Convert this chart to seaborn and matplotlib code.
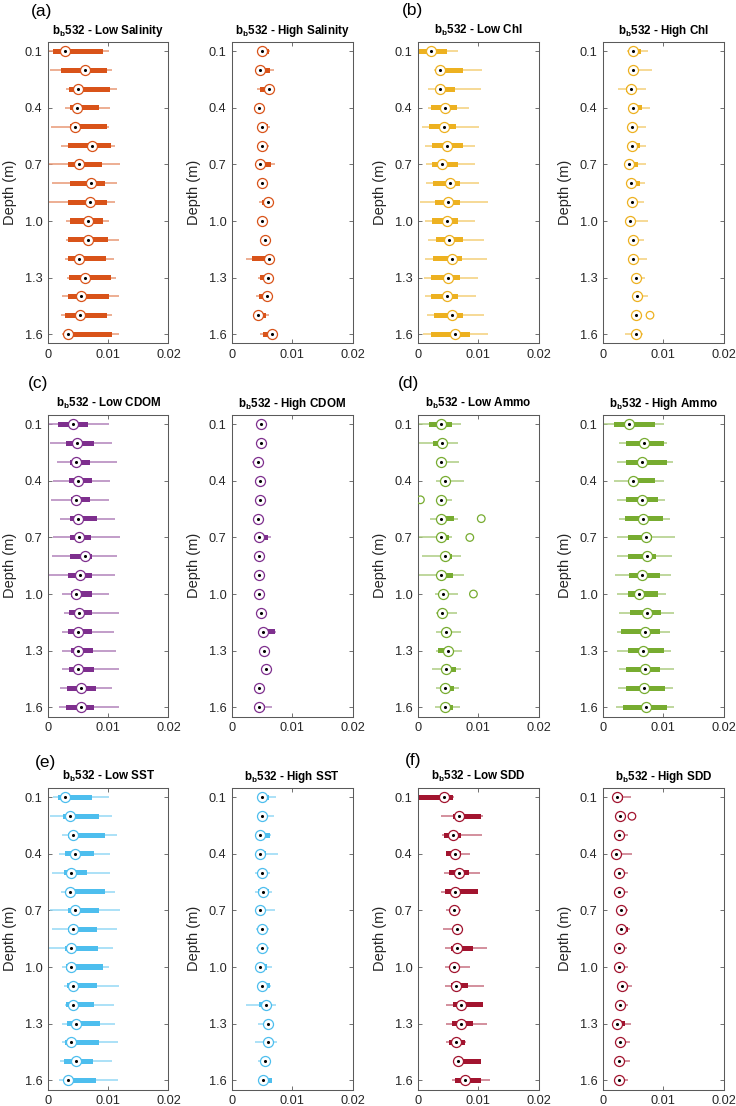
import numpy as np
import pandas as pd
import matplotlib
matplotlib.use("Agg")
import matplotlib.pyplot as plt
import seaborn as sns
from matplotlib.colors import to_rgb

# ---------------- data ----------------
DEPTHS = [0.1, 0.2, 0.3, 0.4, 0.5, 0.6, 0.7, 0.8, 0.9, 1.0, 1.1, 1.2, 1.3, 1.4, 1.5, 1.6]
YTICKS = [0.1, 0.4, 0.7, 1.0, 1.3, 1.6]
YTICKLABELS = ["0.1", "0.4", "0.7", "1.0", "1.3", "1.6"]
XTICKS = [0, 0.01, 0.02]
XTICKLABELS = ["0", "0.01", "0.02"]

# each row: (lower whisker, q1, median, q3, upper whisker), one row per depth
SAL_LOW = [(0.0001, 0.0009, 0.0029, 0.0091, 0.0101), (0.0003, 0.0022, 0.0061, 0.0098, 0.0107),
           (0.0030, 0.0035, 0.0049, 0.0103, 0.0114), (0.0028, 0.0036, 0.0048, 0.0084, 0.0103),
           (0.0005, 0.0037, 0.0044, 0.0098, 0.0102), (0.0021, 0.0034, 0.0073, 0.0104, 0.0112),
           (0.0001, 0.0034, 0.0052, 0.0089, 0.0119), (0.0007, 0.0036, 0.0071, 0.0095, 0.0114),
           (0.0001, 0.0033, 0.0069, 0.0098, 0.0112), (0.0030, 0.0037, 0.0066, 0.0092, 0.0102),
           (0.0030, 0.0034, 0.0066, 0.0099, 0.0118), (0.0029, 0.0034, 0.0051, 0.0097, 0.0109),
           (0.0032, 0.0035, 0.0061, 0.0105, 0.0113), (0.0024, 0.0034, 0.0054, 0.0101, 0.0118),
           (0.0021, 0.0029, 0.0053, 0.0098, 0.0106), (0.0023, 0.0033, 0.0034, 0.0107, 0.0118)]
SAL_HIGH = [(0.0045, 0.0047, 0.0049, 0.0061, 0.0063), (0.0044, 0.0046, 0.0047, 0.0063, 0.0069),
            (0.0041, 0.0046, 0.0062, 0.0063, 0.0064), (0.0042, 0.0043, 0.0044, 0.0046, 0.0047),
            (0.0047, 0.0049, 0.0050, 0.0059, 0.0063), (0.0047, 0.0049, 0.0050, 0.0058, 0.0062),
            (0.0043, 0.0045, 0.0046, 0.0065, 0.0071), (0.0046, 0.0047, 0.0049, 0.0050, 0.0051),
            (0.0045, 0.0049, 0.0060, 0.0061, 0.0062), (0.0047, 0.0049, 0.0050, 0.0051, 0.0052),
            (0.0052, 0.0054, 0.0055, 0.0056, 0.0057), (0.0024, 0.0034, 0.0062, 0.0063, 0.0064),
            (0.0043, 0.0047, 0.0060, 0.0061, 0.0062), (0.0040, 0.0045, 0.0058, 0.0059, 0.0060),
            (0.0041, 0.0042, 0.0043, 0.0057, 0.0061), (0.0046, 0.0051, 0.0067, 0.0068, 0.0069)]
CHL_LOW = [(0.0000, 0.0002, 0.0022, 0.0048, 0.0067), (0.0026, 0.0031, 0.0036, 0.0074, 0.0107),
           (0.0016, 0.0030, 0.0036, 0.0061, 0.0105), (0.0017, 0.0022, 0.0045, 0.0064, 0.0084),
           (0.0007, 0.0018, 0.0043, 0.0063, 0.0102), (0.0012, 0.0023, 0.0048, 0.0074, 0.0094),
           (0.0013, 0.0023, 0.0040, 0.0066, 0.0094), (0.0013, 0.0025, 0.0053, 0.0069, 0.0102),
           (0.0003, 0.0028, 0.0050, 0.0069, 0.0116), (0.0012, 0.0023, 0.0048, 0.0066, 0.0094),
           (0.0016, 0.0030, 0.0051, 0.0074, 0.0110), (0.0012, 0.0025, 0.0056, 0.0073, 0.0114),
           (0.0010, 0.0022, 0.0050, 0.0069, 0.0099), (0.0012, 0.0022, 0.0048, 0.0066, 0.0096),
           (0.0015, 0.0027, 0.0056, 0.0074, 0.0110), (0.0008, 0.0022, 0.0061, 0.0086, 0.0116)]
CHL_HIGH = [(0.0040, 0.0046, 0.0049, 0.0063, 0.0074), (0.0045, 0.0047, 0.0050, 0.0053, 0.0082),
            (0.0025, 0.0039, 0.0046, 0.0052, 0.0072), (0.0043, 0.0046, 0.0049, 0.0065, 0.0078),
            (0.0043, 0.0046, 0.0048, 0.0053, 0.0071), (0.0043, 0.0046, 0.0048, 0.0061, 0.0071),
            (0.0040, 0.0042, 0.0043, 0.0058, 0.0072), (0.0042, 0.0044, 0.0046, 0.0061, 0.0070),
            (0.0044, 0.0046, 0.0048, 0.0052, 0.0068), (0.0040, 0.0043, 0.0045, 0.0050, 0.0075),
            (0.0044, 0.0047, 0.0049, 0.0053, 0.0068), (0.0044, 0.0047, 0.0049, 0.0053, 0.0073),
            (0.0050, 0.0053, 0.0055, 0.0059, 0.0070), (0.0052, 0.0055, 0.0057, 0.0061, 0.0074),
            (0.0049, 0.0052, 0.0054, 0.0057, 0.0060), (0.0037, 0.0051, 0.0054, 0.0058, 0.0067)]
CDOM_LOW = [(0.0001, 0.0016, 0.0041, 0.0066, 0.0101), (0.0003, 0.0030, 0.0048, 0.0076, 0.0107),
            (0.0015, 0.0037, 0.0046, 0.0070, 0.0114), (0.0008, 0.0035, 0.0050, 0.0073, 0.0103),
            (0.0005, 0.0038, 0.0046, 0.0069, 0.0102), (0.0020, 0.0036, 0.0050, 0.0082, 0.0112),
            (0.0008, 0.0036, 0.0051, 0.0072, 0.0119), (0.0007, 0.0037, 0.0061, 0.0073, 0.0114),
            (0.0001, 0.0034, 0.0053, 0.0073, 0.0112), (0.0023, 0.0038, 0.0047, 0.0073, 0.0102),
            (0.0026, 0.0035, 0.0051, 0.0073, 0.0118), (0.0023, 0.0033, 0.0049, 0.0073, 0.0109),
            (0.0023, 0.0038, 0.0050, 0.0074, 0.0113), (0.0024, 0.0035, 0.0049, 0.0076, 0.0118),
            (0.0020, 0.0032, 0.0054, 0.0079, 0.0106), (0.0019, 0.0030, 0.0054, 0.0077, 0.0118)]
CDOM_HIGH = [(0.0045, 0.0047, 0.0048, 0.0050, 0.0052), (0.0045, 0.0047, 0.0048, 0.0050, 0.0052),
             (0.0033, 0.0040, 0.0043, 0.0046, 0.0050), (0.0044, 0.0046, 0.0047, 0.0049, 0.0051),
             (0.0043, 0.0045, 0.0046, 0.0048, 0.0050), (0.0040, 0.0042, 0.0043, 0.0045, 0.0047),
             (0.0042, 0.0044, 0.0045, 0.0060, 0.0064), (0.0042, 0.0044, 0.0045, 0.0047, 0.0049),
             (0.0042, 0.0044, 0.0045, 0.0047, 0.0049), (0.0041, 0.0043, 0.0044, 0.0046, 0.0048),
             (0.0045, 0.0047, 0.0048, 0.0050, 0.0052), (0.0048, 0.0050, 0.0051, 0.0072, 0.0073),
             (0.0050, 0.0052, 0.0053, 0.0055, 0.0057), (0.0054, 0.0056, 0.0057, 0.0059, 0.0060),
             (0.0042, 0.0044, 0.0045, 0.0047, 0.0049), (0.0042, 0.0044, 0.0045, 0.0054, 0.0067)]
AMMO_LOW = [(0.0002, 0.0019, 0.0039, 0.0056, 0.0072), (0.0002, 0.0025, 0.0040, 0.0044, 0.0066),
            (0.0033, 0.0036, 0.0039, 0.0042, 0.0068), (0.0030, 0.0042, 0.0044, 0.0047, 0.0076),
            (0.0030, 0.0035, 0.0038, 0.0040, 0.0057), (0.0020, 0.0036, 0.0038, 0.0059, 0.0066),
            (0.0002, 0.0037, 0.0039, 0.0052, 0.0057), (0.0007, 0.0041, 0.0044, 0.0056, 0.0072),
            (0.0002, 0.0036, 0.0038, 0.0058, 0.0076), (0.0028, 0.0039, 0.0041, 0.0044, 0.0066),
            (0.0030, 0.0038, 0.0040, 0.0042, 0.0065), (0.0030, 0.0043, 0.0046, 0.0048, 0.0072),
            (0.0030, 0.0033, 0.0049, 0.0055, 0.0073), (0.0023, 0.0043, 0.0046, 0.0063, 0.0072),
            (0.0030, 0.0037, 0.0045, 0.0060, 0.0068), (0.0028, 0.0038, 0.0045, 0.0058, 0.0070)]
AMMO_HIGH = [(0.0002, 0.0019, 0.0043, 0.0086, 0.0102), (0.0026, 0.0038, 0.0068, 0.0101, 0.0107),
             (0.0024, 0.0038, 0.0065, 0.0106, 0.0116), (0.0019, 0.0045, 0.0049, 0.0087, 0.0102),
             (0.0024, 0.0038, 0.0064, 0.0091, 0.0103), (0.0027, 0.0037, 0.0066, 0.0099, 0.0112),
             (0.0024, 0.0041, 0.0072, 0.0082, 0.0120), (0.0024, 0.0042, 0.0073, 0.0088, 0.0114),
             (0.0020, 0.0043, 0.0065, 0.0095, 0.0113), (0.0024, 0.0041, 0.0059, 0.0091, 0.0105),
             (0.0027, 0.0045, 0.0073, 0.0096, 0.0118), (0.0023, 0.0030, 0.0069, 0.0095, 0.0111),
             (0.0023, 0.0042, 0.0066, 0.0102, 0.0113), (0.0026, 0.0038, 0.0069, 0.0095, 0.0118),
             (0.0025, 0.0038, 0.0068, 0.0103, 0.0117), (0.0022, 0.0033, 0.0072, 0.0107, 0.0118)]
SST_LOW = [(0.0009, 0.0016, 0.0029, 0.0073, 0.0101), (0.0003, 0.0025, 0.0037, 0.0084, 0.0106),
           (0.0023, 0.0034, 0.0041, 0.0095, 0.0114), (0.0019, 0.0029, 0.0045, 0.0077, 0.0103),
           (0.0006, 0.0027, 0.0039, 0.0064, 0.0103), (0.0021, 0.0034, 0.0036, 0.0095, 0.0112),
           (0.0003, 0.0033, 0.0045, 0.0084, 0.0119), (0.0007, 0.0034, 0.0041, 0.0081, 0.0114),
           (0.0001, 0.0029, 0.0038, 0.0083, 0.0108), (0.0024, 0.0030, 0.0039, 0.0091, 0.0102),
           (0.0027, 0.0032, 0.0042, 0.0082, 0.0118), (0.0029, 0.0030, 0.0041, 0.0077, 0.0109),
           (0.0023, 0.0032, 0.0046, 0.0086, 0.0112), (0.0024, 0.0029, 0.0038, 0.0085, 0.0117),
           (0.0020, 0.0027, 0.0046, 0.0075, 0.0106), (0.0019, 0.0029, 0.0033, 0.0080, 0.0116)]
SST_HIGH = [(0.0046, 0.0048, 0.0050, 0.0061, 0.0073), (0.0045, 0.0047, 0.0049, 0.0051, 0.0069),
            (0.0045, 0.0046, 0.0047, 0.0063, 0.0064), (0.0043, 0.0044, 0.0046, 0.0057, 0.0077),
            (0.0038, 0.0048, 0.0050, 0.0052, 0.0063), (0.0038, 0.0043, 0.0051, 0.0061, 0.0067),
            (0.0038, 0.0045, 0.0047, 0.0049, 0.0071), (0.0040, 0.0047, 0.0049, 0.0051, 0.0061),
            (0.0040, 0.0048, 0.0050, 0.0052, 0.0062), (0.0039, 0.0045, 0.0047, 0.0058, 0.0067),
            (0.0046, 0.0048, 0.0050, 0.0063, 0.0064), (0.0024, 0.0045, 0.0057, 0.0058, 0.0073),
            (0.0043, 0.0058, 0.0060, 0.0062, 0.0069), (0.0039, 0.0058, 0.0060, 0.0062, 0.0074),
            (0.0043, 0.0052, 0.0054, 0.0056, 0.0062), (0.0047, 0.0049, 0.0052, 0.0066, 0.0066)]
SDD_LOW = [(0.0000, 0.0002, 0.0043, 0.0058, 0.0060), (0.0039, 0.0058, 0.0068, 0.0104, 0.0108),
           (0.0040, 0.0043, 0.0058, 0.0071, 0.0106), (0.0046, 0.0047, 0.0062, 0.0071, 0.0086),
           (0.0043, 0.0051, 0.0068, 0.0084, 0.0103), (0.0038, 0.0045, 0.0061, 0.0099, 0.0099),
           (0.0046, 0.0054, 0.0059, 0.0064, 0.0072), (0.0042, 0.0060, 0.0065, 0.0068, 0.0073),
           (0.0044, 0.0055, 0.0064, 0.0092, 0.0114), (0.0044, 0.0055, 0.0060, 0.0065, 0.0086),
           (0.0044, 0.0054, 0.0063, 0.0083, 0.0109), (0.0046, 0.0058, 0.0072, 0.0108, 0.0108),
           (0.0046, 0.0056, 0.0071, 0.0092, 0.0114), (0.0046, 0.0051, 0.0063, 0.0078, 0.0079),
           (0.0062, 0.0063, 0.0067, 0.0105, 0.0105), (0.0057, 0.0062, 0.0078, 0.0105, 0.0119)]
SDD_HIGH = [(0.0017, 0.0017, 0.0024, 0.0034, 0.0047), (0.0025, 0.0027, 0.0029, 0.0031, 0.0033),
            (0.0023, 0.0025, 0.0027, 0.0029, 0.0042), (0.0019, 0.0020, 0.0022, 0.0026, 0.0048),
            (0.0023, 0.0025, 0.0027, 0.0029, 0.0042), (0.0023, 0.0025, 0.0027, 0.0029, 0.0041),
            (0.0026, 0.0028, 0.0030, 0.0032, 0.0041), (0.0026, 0.0028, 0.0030, 0.0042, 0.0045),
            (0.0023, 0.0024, 0.0026, 0.0028, 0.0040), (0.0024, 0.0025, 0.0027, 0.0035, 0.0042),
            (0.0029, 0.0030, 0.0032, 0.0034, 0.0048), (0.0026, 0.0027, 0.0029, 0.0031, 0.0042),
            (0.0021, 0.0023, 0.0024, 0.0036, 0.0047), (0.0025, 0.0026, 0.0028, 0.0030, 0.0045),
            (0.0023, 0.0025, 0.0027, 0.0035, 0.0044), (0.0023, 0.0025, 0.0027, 0.0029, 0.0042)]

# outliers: (depth, value)
CHL_HIGH_OUT = [(1.5, 0.0078)]
AMMO_LOW_OUT = [(0.5, 0.0004), (0.6, 0.0105), (0.7, 0.0086), (1.0, 0.0092)]
SDD_HIGH_OUT = [(0.2, 0.0048)]

TITLES = ["Low Salinity", "High Salinity", "Low Chl", "High Chl",
          "Low CDOM", "High CDOM", "Low Ammo", "High Ammo",
          "Low SST", "High SST", "Low SDD", "High SDD"]
LETTERS = ["(a)", "(b)", "(c)", "(d)", "(e)", "(f)"]
COLORS = ["#D95319", "#EDB120", "#7E2F8E", "#77AC30", "#4DBEEE", "#A2142F"]

# ---------------- style ----------------
sns.set_theme(style="white")
plt.rcParams["font.family"] = ["Liberation Sans", "DejaVu Sans"]
plt.rcParams["mathtext.fontset"] = "custom"
plt.rcParams["mathtext.rm"] = "Liberation Sans"
plt.rcParams["mathtext.bf"] = "Liberation Sans:bold"
TXT = "#262626"
FRAME = "#5a5a5a"

W, H = 736, 1106
fig = plt.figure(figsize=(W / 100, H / 100), dpi=100)

COL_LEFT = [48, 232, 418, 603]
ROW_TOP = [42, 415, 788]
AX_W, AX_H = 120.5, 301.5

panels = [
    (SAL_LOW, []), (SAL_HIGH, []), (CHL_LOW, []), (CHL_HIGH, CHL_HIGH_OUT),
    (CDOM_LOW, []), (CDOM_HIGH, []), (AMMO_LOW, AMMO_LOW_OUT), (AMMO_HIGH, []),
    (SST_LOW, []), (SST_HIGH, []), (SDD_LOW, []), (SDD_HIGH, SDD_HIGH_OUT),
]


def lighten(c, f):
    r = np.array(to_rgb(c))
    return tuple(r * (1 - f) + f)


def draw(ax, stats, outl, color, title):
    rows = []
    for d, s in zip(DEPTHS, stats):
        for v in s:
            rows.append((d, v))
    df = pd.DataFrame(rows, columns=["depth", "value"])
    light = lighten(color, 0.4)
    sns.boxplot(data=df, x="value", y="depth", orient="h", native_scale=True,
                whis=(0, 100), width=0.27, showcaps=False, showfliers=False,
                color=color, saturation=1, ax=ax,
                boxprops=dict(facecolor=color, edgecolor=color, linewidth=0),
                whiskerprops=dict(color=light, linewidth=1.1),
                medianprops=dict(color=color, linewidth=0))
    med = pd.DataFrame({"depth": DEPTHS, "value": [s[2] for s in stats]})
    sns.scatterplot(data=med, x="value", y="depth", s=52, color="white",
                    edgecolor=color, linewidth=0.9, zorder=5, ax=ax, legend=False)
    sns.scatterplot(data=med, x="value", y="depth", s=5, color="black",
                    edgecolor="black", linewidth=0, zorder=6, ax=ax, legend=False)
    if outl:
        od = pd.DataFrame(outl, columns=["depth", "value"])
        sns.scatterplot(data=od, x="value", y="depth", s=30, color=color,
                        facecolor="none", edgecolor=color, linewidth=0.9,
                        zorder=5, ax=ax, legend=False)
    ax.set_xlim(0, 0.02)
    ax.set_ylim(1.65, 0.05)
    ax.set_xticks(XTICKS)
    ax.set_xticklabels(XTICKLABELS)
    ax.set_yticks(YTICKS)
    ax.set_yticklabels(YTICKLABELS)
    ax.set_xlabel("")
    ax.set_ylabel("Depth (m)", fontsize=10.5, color=TXT)
    ax.yaxis.set_label_coords(-31 / AX_W, 0.5)
    ax.set_title(r"$\mathbf{b_b}$532 - " + title, fontsize=8.4,
                 fontweight="bold", color="black", pad=6)
    ax.tick_params(direction="in", length=3, width=0.6, color=FRAME,
                   top=True, right=True, bottom=True, left=True,
                   labelsize=9.2, labelcolor=TXT)
    ax.tick_params(axis="y", pad=4)
    ax.tick_params(axis="x", pad=4)
    for sp in ax.spines.values():
        sp.set_visible(True)
        sp.set_color(FRAME)
        sp.set_linewidth(0.75)
    ax.grid(False)


for i, (stats, outl) in enumerate(panels):
    r = i // 4
    c = i % 4
    color = COLORS[r * 2 + c // 2]
    left = COL_LEFT[c]
    top = ROW_TOP[r]
    ax = fig.add_axes([left / W, 1 - (top + AX_H) / H, AX_W / W, AX_H / H])
    draw(ax, stats, outl, color, TITLES[i])

LETTER_POS = [(31, 11.5), (402, 11), (28, 384), (398, 384), (35, 762.5), (405, 760.5)]
for lab, (x, y) in zip(LETTERS, LETTER_POS):
    fig.text(x / W, 1 - y / H, lab, fontsize=12.5, color="black", ha="left", va="center")

fig.savefig("out.png", dpi=100, facecolor="white")
